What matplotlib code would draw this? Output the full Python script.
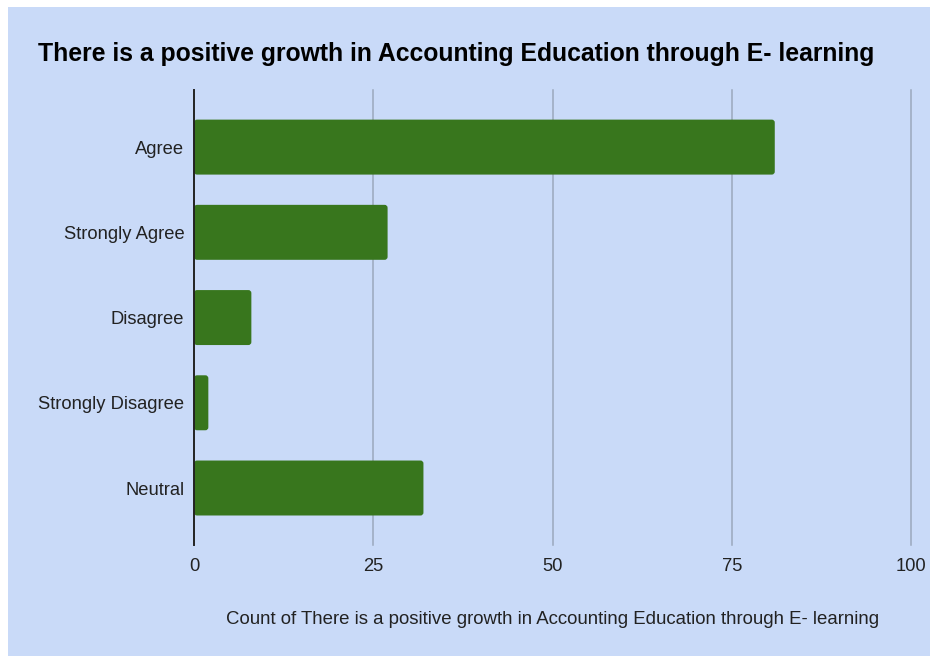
import matplotlib
matplotlib.use("Agg")
import matplotlib.pyplot as plt
from matplotlib.patches import Rectangle, FancyBboxPatch

categories = ["Agree", "Strongly Agree", "Disagree", "Strongly Disagree", "Neutral"]
counts = [81, 27, 8, 2, 32]
xticks = [0, 25, 50, 75, 100]
xtick_labels = ["0", "25", "50", "75", "100"]

title = "There is a positive growth in Accounting Education through E- learning"
xlabel = "Count of There is a positive growth in Accounting Education through E- learning"

BG = "#c9daf8"
BAR = "#38761d"
GRID = "#9ba8bc"
TXT = "#222222"

plt.rcParams['font.family'] = ['Liberation Sans', 'DejaVu Sans']

W, H = 930, 656
fig = plt.figure(figsize=(W / 100, H / 100), dpi=100, facecolor="white")
fig.patches.append(Rectangle((8 / W, 0), 1 - 8 / W, 1 - 7 / H, transform=fig.transFigure,
                             facecolor=BG, edgecolor="none", zorder=-10))

ax = fig.add_axes([194 / W, 1 - 540 / H, (911 - 194) / W, (540 - 90) / H])
ax.set_facecolor(BG)

ypos = list(range(len(categories)))
ax.set_ylim(len(categories) - 0.5 + 0.11, -0.5 - 0.17)
ax.set_xlim(0, 100)
bars = ax.barh(ypos, counts, height=0.645, color=BAR, zorder=3)

# rounded corners (about 3 px)
ax_w_px = 911 - 194
ax_h_px = 540 - 90
ymin, ymax = ax.get_ylim()
px_x = 100 / ax_w_px
px_y = abs(ymin - ymax) / ax_h_px
r = 3 * px_x
for b in bars:
    x0, y0, w, h = b.get_x(), b.get_y(), b.get_width(), b.get_height()
    b.set_visible(False)
    ax.add_patch(FancyBboxPatch((x0, y0), w, h, boxstyle=f"round,pad=0,rounding_size={r}",
                                mutation_aspect=px_y / px_x, facecolor=BAR, edgecolor="none",
                                zorder=3))

ax.set_yticks(ypos)
ax.set_yticklabels(categories, fontsize=13.2, color=TXT)
ax.tick_params(axis="y", length=0, pad=7)

ax.set_xticks(xticks)
ax.set_xticklabels(xtick_labels, fontsize=13.2, color=TXT)
ax.tick_params(axis="x", length=0, pad=13)

# gridlines (extend slightly below the plot area, not clipped at the right edge)
for xv in xticks[1:]:
    ax.plot([xv, xv], [ymin + 0.06, ymax], color=GRID, linewidth=1.1, zorder=1, clip_on=False)
ax.plot([0, 0], [ymin + 0.06, ymax], color=TXT, linewidth=1.4, zorder=4, clip_on=False)
ax.set_ylim(ymin, ymax)

for s in ["top", "right", "bottom", "left"]:
    ax.spines[s].set_visible(False)

ax.set_xlabel(xlabel, fontsize=13.4, color=TXT, labelpad=26)

fig.text(38 / W, 1 - 54 / H, title, fontsize=17.85, fontweight="bold", color="black",
         ha="left", va="center")

fig.savefig("out.png", dpi=100, facecolor=fig.get_facecolor())
